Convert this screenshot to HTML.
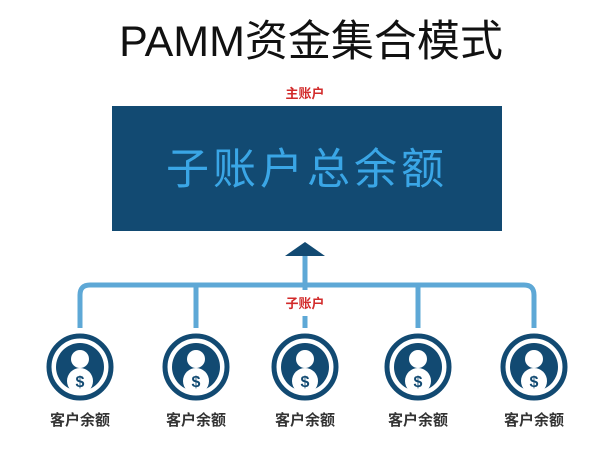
<!DOCTYPE html>
<html><head><meta charset="utf-8"><style>
body{margin:0;width:608px;height:454px;background:#fff;overflow:hidden;font-family:"Liberation Sans","Noto Sans CJK SC",sans-serif;}
</style></head><body>
<svg width="608" height="454" viewBox="0 0 608 454" xmlns="http://www.w3.org/2000/svg">
<text x="311" y="56" text-anchor="middle" font-size="43" font-family="Liberation Sans, Noto Sans CJK SC, sans-serif" fill="#111">PAMM资金集合模式</text>
<text x="305" y="98" text-anchor="middle" font-size="13" font-weight="bold" font-family="Noto Sans CJK SC, sans-serif" fill="#d22a2a">主账户</text>
<rect x="112" y="106" width="390" height="125" fill="#124a72"/>
<text x="307" y="184" text-anchor="middle" font-size="43" font-family="Noto Sans CJK SC, sans-serif" fill="#3aa6e6" letter-spacing="4">子账户总余额</text>
<polygon points="305,242 285,256 325,256" fill="#124a72"/>
<g stroke="#5ea8d6" stroke-width="5" fill="none">
<path d="M80,328 V295 Q80,285 90,285 H524 Q534,285 534,295 V328"/>
<line x1="196" y1="285" x2="196" y2="328"/>
<line x1="418" y1="285" x2="418" y2="328"/>
<line x1="305" y1="256" x2="305" y2="290"/>
<line x1="305" y1="316" x2="305" y2="328"/>
</g>
<text x="305" y="308" text-anchor="middle" font-size="13" font-weight="bold" font-family="Noto Sans CJK SC, sans-serif" fill="#d22a2a">子账户</text>
<defs>
<g id="ic">
<circle r="31" fill="#fff" stroke="#124a72" stroke-width="5"/>
<circle r="24" fill="#124a72"/>
<circle cy="-8" r="9" fill="#fff"/>
<circle cy="14" r="13" fill="#fff"/>
<text y="20" text-anchor="middle" font-size="16" font-weight="bold" font-family="Liberation Sans, sans-serif" fill="#124a72">$</text>
</g>
</defs>
<use href="#ic" x="80" y="367"/>
<use href="#ic" x="196" y="367"/>
<use href="#ic" x="305" y="367"/>
<use href="#ic" x="418" y="367"/>
<use href="#ic" x="534" y="367"/>
<g font-size="15" font-weight="bold" text-anchor="middle" font-family="Noto Sans CJK SC, sans-serif" fill="#333">
<text x="80" y="425">客户余额</text>
<text x="196" y="425">客户余额</text>
<text x="305" y="425">客户余额</text>
<text x="418" y="425">客户余额</text>
<text x="534" y="425">客户余额</text>
</g>
</svg>
</body></html>
